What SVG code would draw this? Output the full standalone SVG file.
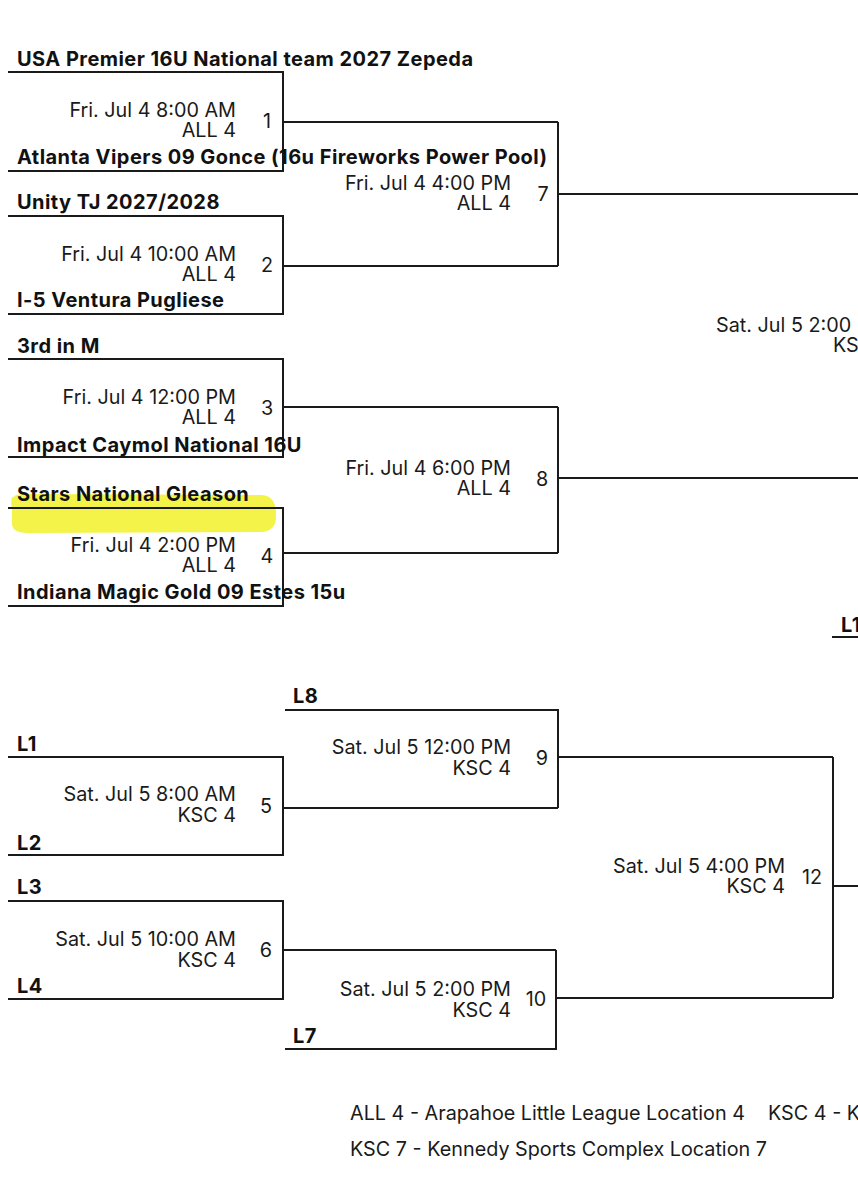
<svg xmlns="http://www.w3.org/2000/svg" width="858" height="1200" viewBox="0 0 858 1200">
<style>
.ln{fill:none;stroke:#1a1a1a;stroke-width:2}
.tm{font-family:Inter,"Liberation Sans",sans-serif;font-weight:700;font-size:20px;letter-spacing:0.45px;fill:#111}
.dt{font-family:Inter,"Liberation Sans",sans-serif;font-size:19.8px;fill:#1a1a1a;text-anchor:end}
.no{font-family:Inter,"Liberation Sans",sans-serif;font-size:19.8px;fill:#1a1a1a;text-anchor:middle}
.lg{font-family:Inter,"Liberation Sans",sans-serif;font-size:19.8px;fill:#1a1a1a}
</style>
<rect width="858" height="1200" fill="#fff"/>
<path d="M14,497 Q10,495 12,510 L12,525 Q14,534 30,533 L262,532 Q277,531 276,514 Q276,496 262,495 L26,494 Q14,494 14,497 Z" fill="#f3f236" opacity="0.9"/>
<g id="connectors">
<path class="ln" d="M8,72 H283 V171 H8 M283,122 H558"/>
<path class="ln" d="M8,216 H283 V314 H8 M283,266 H558"/>
<path class="ln" d="M558,122 V266 M558,194 H858"/>
<path class="ln" d="M8,359 H283 V457 H8 M283,407 H558"/>
<path class="ln" d="M8,508 H283 V606 H8 M283,553 H558"/>
<path class="ln" d="M558,407 V553 M558,478 H858"/>
<path class="ln" d="M832,637 H858"/>
<path class="ln" d="M8,757 H283 V855 H8 M283,808 H558"/>
<path class="ln" d="M285,710 H558 V808 M558,757 H833"/>
<path class="ln" d="M8,901 H283 V999 H8 M283,950 H556"/>
<path class="ln" d="M556,950 V1049 H285 M556,998 H833"/>
<path class="ln" d="M833,757 V998 M833,886 H858"/>
</g>
<g id="game1">
<text class="tm" x="17" y="66">USA Premier 16U National team 2027 Zepeda</text>
<text class="dt" x="236" y="117">Fri. Jul 4 8:00 AM</text>
<text class="dt" x="236" y="137">ALL 4</text>
<text class="no" x="267" y="128">1</text>
<text class="tm" x="17" y="164">Atlanta Vipers 09 Gonce (16u Fireworks Power Pool)</text>
</g>
<g id="game2">
<text class="tm" x="17" y="209">Unity TJ 2027/2028</text>
<text class="dt" x="236" y="261">Fri. Jul 4 10:00 AM</text>
<text class="dt" x="236" y="281">ALL 4</text>
<text class="no" x="267" y="272">2</text>
<text class="tm" x="17" y="307">I-5 Ventura Pugliese</text>
</g>
<g id="game3">
<text class="tm" x="17" y="353">3rd in M</text>
<text class="dt" x="236" y="404">Fri. Jul 4 12:00 PM</text>
<text class="dt" x="236" y="424">ALL 4</text>
<text class="no" x="267" y="415">3</text>
<text class="tm" x="17" y="452">Impact Caymol National 16U</text>
</g>
<g id="game4">
<text class="tm" x="17" y="501">Stars National Gleason</text>
<text class="dt" x="236" y="552">Fri. Jul 4 2:00 PM</text>
<text class="dt" x="236" y="572">ALL 4</text>
<text class="no" x="267" y="563">4</text>
<text class="tm" x="17" y="599">Indiana Magic Gold 09 Estes 15u</text>
</g>
<g id="game7">
<text class="dt" x="511" y="190">Fri. Jul 4 4:00 PM</text>
<text class="dt" x="511" y="210">ALL 4</text>
<text class="no" x="543" y="201">7</text>
</g>
<g id="game8">
<text class="dt" x="511" y="475">Fri. Jul 4 6:00 PM</text>
<text class="dt" x="511" y="495">ALL 4</text>
<text class="no" x="542" y="486">8</text>
</g>
<g id="game11">
<text class="lg" x="716" y="332">Sat. Jul 5 2:00</text>
<text class="lg" x="833" y="352">KS</text>
<text class="tm" x="841" y="632">L1</text>
</g>
<g id="game5">
<text class="tm" x="17" y="751">L1</text>
<text class="dt" x="236" y="801">Sat. Jul 5 8:00 AM</text>
<text class="dt" x="236" y="822">KSC 4</text>
<text class="no" x="266" y="813">5</text>
<text class="tm" x="17" y="850">L2</text>
</g>
<g id="game9">
<text class="tm" x="293" y="703">L8</text>
<text class="dt" x="511" y="754">Sat. Jul 5 12:00 PM</text>
<text class="dt" x="511" y="775">KSC 4</text>
<text class="no" x="542" y="765">9</text>
</g>
<g id="game6">
<text class="tm" x="17" y="894">L3</text>
<text class="dt" x="236" y="946">Sat. Jul 5 10:00 AM</text>
<text class="dt" x="236" y="967">KSC 4</text>
<text class="no" x="266" y="957">6</text>
<text class="tm" x="17" y="993">L4</text>
</g>
<g id="game10">
<text class="dt" x="511" y="996">Sat. Jul 5 2:00 PM</text>
<text class="dt" x="511" y="1017">KSC 4</text>
<text class="no" x="536" y="1006">10</text>
<text class="tm" x="293" y="1043">L7</text>
</g>
<g id="game12">
<text class="dt" x="785" y="873">Sat. Jul 5 4:00 PM</text>
<text class="dt" x="785" y="893">KSC 4</text>
<text class="no" x="812" y="884">12</text>
</g>
<g id="legend">
<text class="lg" x="350" y="1120">ALL 4 - Arapahoe Little League Location 4</text>
<text class="lg" x="768" y="1120">KSC 4 - K</text>
<text class="lg" x="350" y="1156">KSC 7 - Kennedy Sports Complex Location 7</text>
</g>
</svg>
